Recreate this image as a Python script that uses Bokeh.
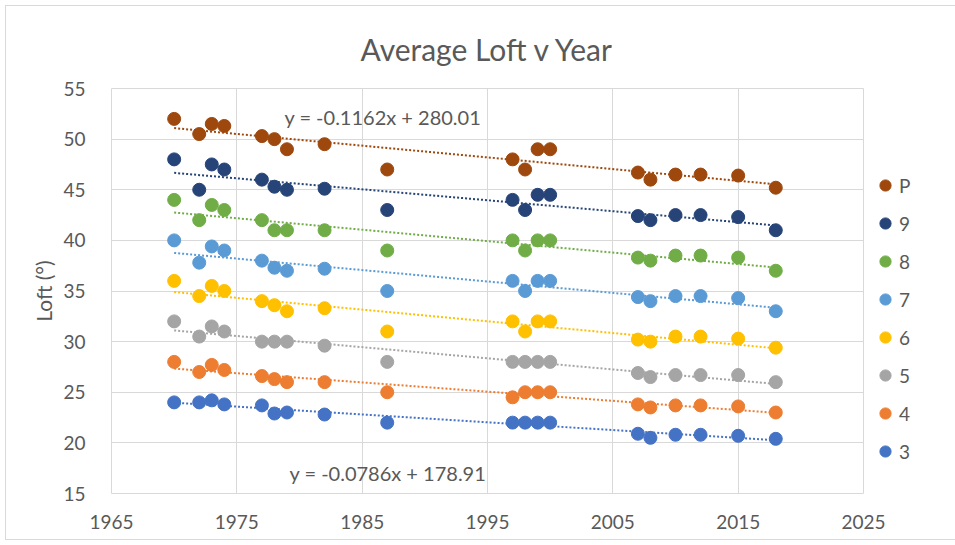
import numpy as np
from bokeh.plotting import figure
from bokeh.models import Range1d, FixedTicker, Label, Legend, LegendItem
from bokeh.embed import file_html
from bokeh.resources import INLINE

# ---- data ----
years = [1970, 1972, 1973, 1974, 1977, 1978, 1979, 1982, 1987, 1997, 1998, 1999, 2000,
         2007, 2008, 2010, 2012, 2015, 2018]
loft_P = [52, 50.5, 51.5, 51.3, 50.3, 50, 49, 49.5, 47, 48, 47, 49, 49, 46.7, 46, 46.5, 46.5, 46.4, 45.2]
loft_9 = [48, 45, 47.5, 47, 46, 45.3, 45, 45.1, 43, 44, 43, 44.5, 44.5, 42.4, 42, 42.5, 42.5, 42.3, 41]
loft_8 = [44, 42, 43.5, 43, 42, 41, 41, 41, 39, 40, 39, 40, 40, 38.3, 38, 38.5, 38.5, 38.3, 37]
loft_7 = [40, 37.8, 39.4, 39, 38, 37.3, 37, 37.2, 35, 36, 35, 36, 36, 34.4, 34, 34.5, 34.5, 34.3, 33]
loft_6 = [36, 34.5, 35.5, 35, 34, 33.6, 33, 33.3, 31, 32, 31, 32, 32, 30.2, 30, 30.5, 30.5, 30.3, 29.4]
loft_5 = [32, 30.5, 31.5, 31, 30, 30, 30, 29.6, 28, 28, 28, 28, 28, 26.9, 26.5, 26.7, 26.7, 26.7, 26]
loft_4 = [28, 27, 27.7, 27.2, 26.6, 26.3, 26, 26, 25, 24.5, 25, 25, 25, 23.8, 23.5, 23.7, 23.7, 23.6, 23]
loft_3 = [24, 24, 24.2, 23.8, 23.7, 22.9, 23, 22.8, 22, 22, 22, 22, 22, 20.9, 20.5, 20.8, 20.8, 20.7, 20.4]

series_names = ["P", "9", "8", "7", "6", "5", "4", "3"]
series_values = [loft_P, loft_9, loft_8, loft_7, loft_6, loft_5, loft_4, loft_3]
series_colors = ["#9E480E", "#264478", "#70AD47", "#5B9BD5", "#FFC000", "#A5A5A5", "#ED7D31", "#4472C4"]

x_ticks = [1965, 1975, 1985, 1995, 2005, 2015, 2025]
y_ticks = [15, 20, 25, 30, 35, 40, 45, 50, 55]

title_text = "Average Loft v Year"
y_label = "Loft (°)"
eq_top = "y = -0.1162x + 280.01"
eq_bottom = "y = -0.0786x + 178.91"

FONT = "Lato"
GREY = "#595959"
GRID = "#D9D9D9"

p = figure(frame_width=752, frame_height=405, output_backend="svg", toolbar_location=None,
           x_range=Range1d(x_ticks[0], x_ticks[-1]), y_range=Range1d(y_ticks[0], y_ticks[-1]),
           min_border_left=105, min_border_right=82, min_border_top=81, min_border_bottom=46,
           background_fill_color="white", border_fill_color="white")
p.styles = {"border": "1px solid #D9D9D9", "margin": "5px"}

p.title.text = title_text
p.title.text_font = FONT
p.title.text_font_size = "30px"
p.title.text_font_style = "normal"
p.title.text_color = GREY
p.title.align = "center"
p.title.standoff = 44

p.outline_line_color = GRID
p.xaxis.ticker = FixedTicker(ticks=x_ticks)
p.yaxis.ticker = FixedTicker(ticks=y_ticks)
for ax in (p.xaxis[0], p.yaxis[0]):
    ax.axis_line_color = None
    ax.major_tick_line_color = None
    ax.minor_tick_line_color = None
    ax.major_label_text_font = FONT
    ax.major_label_text_font_size = "19px"
    ax.major_label_text_color = GREY
p.xaxis.major_label_standoff = 15
p.yaxis.major_label_standoff = 20
p.yaxis.axis_label = y_label
p.yaxis.axis_label_text_font = FONT
p.yaxis.axis_label_text_font_size = "21px"
p.yaxis.axis_label_text_font_style = "normal"
p.yaxis.axis_label_text_color = GREY
p.yaxis.axis_label_standoff = 4

p.xgrid.grid_line_color = GRID
p.ygrid.grid_line_color = GRID
p.xgrid.ticker = FixedTicker(ticks=x_ticks)
p.ygrid.ticker = FixedTicker(ticks=y_ticks)

xs = np.array(years, dtype=float)
items = []
# trendlines first (under the markers)
for vals, col in zip(series_values, series_colors):
    m, b = np.polyfit(xs, np.array(vals, dtype=float), 1)
    ends = np.array([xs.min(), xs.max()])
    p.line(ends, m * ends + b, line_color=col, line_width=2, line_dash="2 2", line_cap="butt")

for name, vals, col in zip(series_names, series_values, series_colors):
    r = p.scatter(years, vals, size=13, fill_color=col, line_color=col, line_width=1)
    items.append(LegendItem(label=name, renderers=[r]))

legend = Legend(items=items, location="top_left", orientation="vertical",
                title=" ", title_text_font_size="19px", title_standoff=53,
                glyph_width=28, glyph_height=28, label_height=28, spacing=10,
                label_standoff=0, padding=0, margin=8,
                label_text_font=FONT, label_text_font_size="19px", label_text_color=GREY,
                border_line_color=None, background_fill_alpha=0)
p.add_layout(legend, "right")

p.add_layout(Label(x=1978.8, y=52.2, text=eq_top, text_font=FONT, text_font_size="20px",
                   text_color=GREY, text_baseline="middle", text_align="left"))
p.add_layout(Label(x=1979.2, y=17.0, text=eq_bottom, text_font=FONT, text_font_size="20px",
                   text_color=GREY, text_baseline="middle", text_align="left"))

open("out.html", "w").write(file_html(p, INLINE))
